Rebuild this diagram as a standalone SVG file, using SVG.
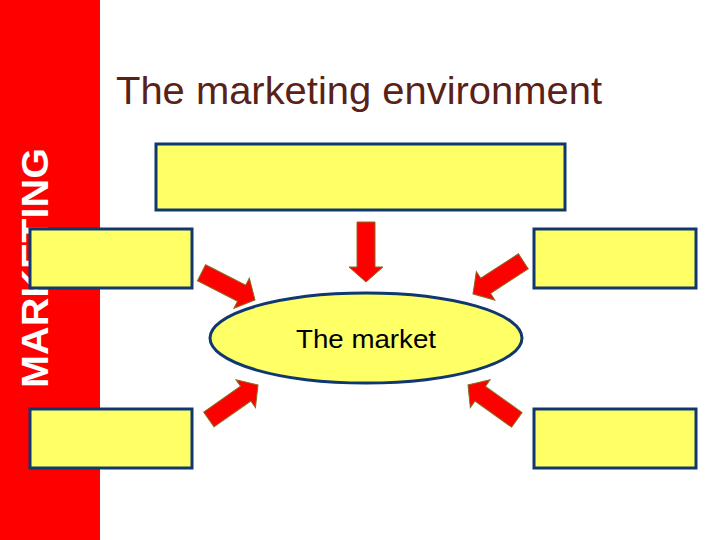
<svg xmlns="http://www.w3.org/2000/svg" width="720" height="540" viewBox="0 0 720 540">
<style>
.box{fill:#ffff66;stroke:#103870;stroke-width:3}
.arr{fill:#ff0000;stroke:#8a6a20;stroke-width:1}
.t{font-family:"Liberation Sans",Arial,sans-serif}
</style>
<defs>
<polygon id="arrow" points="0,0 -15,-17 -15,-9 -60,-9 -60,9 -15,9 -15,17"/>
</defs>
<rect x="0" y="0" width="720" height="540" fill="#ffffff"/>
<rect x="0" y="0" width="100" height="540" fill="#ff0000"/>
<text class="t" transform="translate(48,268) rotate(-90)" text-anchor="middle" font-size="36" font-weight="bold" fill="#ffffff" textLength="240" lengthAdjust="spacingAndGlyphs">MARKETING</text>
<text class="t" x="116" y="104" font-size="38" fill="#5a2216" textLength="486" lengthAdjust="spacingAndGlyphs">The marketing environment</text>
<g id="box-top"><rect class="box" x="156" y="144" width="409" height="66"/></g>
<g id="box-left"><rect class="box" x="30" y="229" width="162" height="59"/></g>
<g id="box-right"><rect class="box" x="534" y="229" width="162" height="59"/></g>
<g id="box-bottom-left"><rect class="box" x="30" y="409" width="162" height="59"/></g>
<g id="box-bottom-right"><rect class="box" x="534" y="409" width="162" height="59"/></g>
<g id="market">
<ellipse cx="366" cy="338" rx="156" ry="45" fill="#ffff66" stroke="#103870" stroke-width="3"/>
<text class="t" x="366" y="348" text-anchor="middle" font-size="26" fill="#000000" textLength="140" lengthAdjust="spacingAndGlyphs">The market</text>
</g>
<g id="connectors">
<use href="#arrow" class="arr" transform="translate(366,282) rotate(90)"/>
<use href="#arrow" class="arr" transform="translate(255,300) rotate(27)"/>
<use href="#arrow" class="arr" transform="translate(473,294) rotate(147)"/>
<use href="#arrow" class="arr" transform="translate(258,385) rotate(-35)"/>
<use href="#arrow" class="arr" transform="translate(468,385) rotate(-144.5)"/>
</g>
</svg>
